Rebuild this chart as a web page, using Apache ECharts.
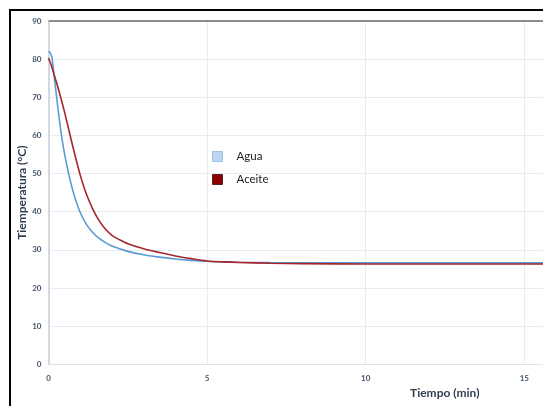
<!DOCTYPE html>
<html>
<head>
<meta charset="utf-8">
<script src="https://cdn.jsdelivr.net/npm/echarts@6/dist/echarts.min.js"></script>
<style>
html,body{margin:0;padding:0;background:#fff;}
#chart{width:543px;height:406px;}
</style>
</head>
<body>
<div id="chart"></div>
<script>
// Data
const seriesNames = ['Agua', 'Aceite'];
const aguaTime = [0, 0.05, 0.1, 0.15, 0.2, 0.3, 0.4, 0.5, 0.6, 0.7, 0.8, 0.9, 1.0, 1.2, 1.4, 1.6, 1.8, 2.0, 2.5, 3.0, 3.5, 4.0, 4.5, 5.0, 5.5, 6.0, 7.0, 8.0, 10, 12, 15, 18, 22];
const aguaTemp = [82, 81.7, 80.8, 77.8, 74, 67, 60.5, 55.5, 51.3, 47.7, 44.6, 42, 39.8, 36.6, 34.5, 33.0, 31.9, 31.0, 29.6, 28.7, 28.1, 27.6, 27.25, 27.0, 26.85, 26.75, 26.65, 26.6, 26.6, 26.6, 26.6, 26.6, 26.6];
const aceiteTime = [0, 0.1, 0.2, 0.3, 0.4, 0.5, 0.6, 0.7, 0.8, 0.9, 1.0, 1.1, 1.2, 1.4, 1.6, 1.8, 2.0, 2.25, 2.5, 3.0, 3.5, 4.0, 4.5, 5.0, 5.5, 6.0, 7.0, 8.0, 10, 12, 15, 18, 22];
const aceiteTemp = [80.3, 78.1, 75.3, 72.5, 69.5, 66.3, 62.9, 59.4, 56.0, 52.7, 49.6, 46.9, 44.5, 40.6, 37.6, 35.4, 33.8, 32.6, 31.6, 30.3, 29.3, 28.4, 27.7, 27.1, 26.85, 26.7, 26.5, 26.4, 26.3, 26.3, 26.3, 26.3, 26.3];
const yTicks = [0, 10, 20, 30, 40, 50, 60, 70, 80, 90];
const xTicks = [0, 5, 10, 15, 20];
const yAxisTitle = 'Tiemperatura (°C)';
const xAxisTitle = 'Tiempo (min)';

const pair = (ts, vs) => ts.map((t, i) => [t, vs[i]]);

const chart = echarts.init(document.getElementById('chart'), null, {renderer: 'canvas'});
const labelStyle = {color: '#44546a', fontSize: 8, fontWeight: 'bold', fontFamily: 'Lato'};

chart.setOption({
  animation: false,
  backgroundColor: '#ffffff',
  grid: {left: 48.5, top: 21, height: 343.3, width: 22 * 31.72, containLabel: false, outerBoundsMode: 'none'},
  legend: {
    orient: 'vertical',
    left: 212, top: 150.5, padding: 0,
    itemWidth: 10, itemHeight: 10, itemGap: 11,
    icon: 'rect',
    textStyle: {color: '#222', fontSize: 11.5, fontFamily: 'Lato', padding: [0, 0, 0, 9]},
    data: [
      {name: seriesNames[0], itemStyle: {color: '#bdd7ee', borderColor: '#9dc3e6', borderWidth: 1}},
      {name: seriesNames[1], itemStyle: {color: '#8b0000', borderColor: '#5a2020', borderWidth: 1}}
    ]
  },
  xAxis: {
    type: 'value', min: 0, max: 22, interval: 5,
    axisLine: {show: true, lineStyle: {color: '#dde2ea', width: 1}},
    axisTick: {show: false},
    axisLabel: Object.assign({margin: 10, formatter: v => xTicks.includes(v) ? String(v) : ''}, labelStyle),
    splitLine: {show: true, lineStyle: {color: '#e8ebf1', width: 1}}
  },
  yAxis: {
    type: 'value', min: 0, max: 90, interval: 10,
    name: yAxisTitle, nameLocation: 'middle', nameGap: 20, nameMoveOverlap: false,
    nameTextStyle: {color: '#333f50', fontSize: 12, fontWeight: 'bold', fontFamily: 'Lato'},
    axisLine: {show: true, lineStyle: {color: '#d3d9e3', width: 2}},
    axisTick: {show: false},
    axisLabel: Object.assign({margin: 7, formatter: v => yTicks.includes(v) ? String(v) : ''}, labelStyle),
    splitLine: {show: true, lineStyle: {color: '#e8ebf1', width: 1}}
  },
  graphic: [
    {type: 'rect', shape: {x: 10, y: 10, width: 700, height: 600}, style: {fill: 'none', stroke: '#000', lineWidth: 2}, z: 100, silent: true},
    {type: 'text', left: 410, top: 387, style: {text: xAxisTitle, fill: '#333f50', font: 'bold 12px Lato'}, z: 100}
  ],
  series: [
    {
      name: seriesNames[0], type: 'line', smooth: 0.3, showSymbol: false,
      data: pair(aguaTime, aguaTemp),
      lineStyle: {color: '#5b9bd5', width: 1.6},
      itemStyle: {color: '#bdd7ee'},
      markLine: {
        silent: true, symbol: 'none', label: {show: false},
        lineStyle: {color: '#8c8c8c', width: 2, type: 'solid'},
        data: [{yAxis: 90}]
      }
    },
    {
      name: seriesNames[1], type: 'line', smooth: 0.3, showSymbol: false,
      data: pair(aceiteTime, aceiteTemp),
      lineStyle: {color: '#a5262b', width: 1.6},
      itemStyle: {color: '#8b0000'}
    }
  ]
});
</script>
</body>
</html>
